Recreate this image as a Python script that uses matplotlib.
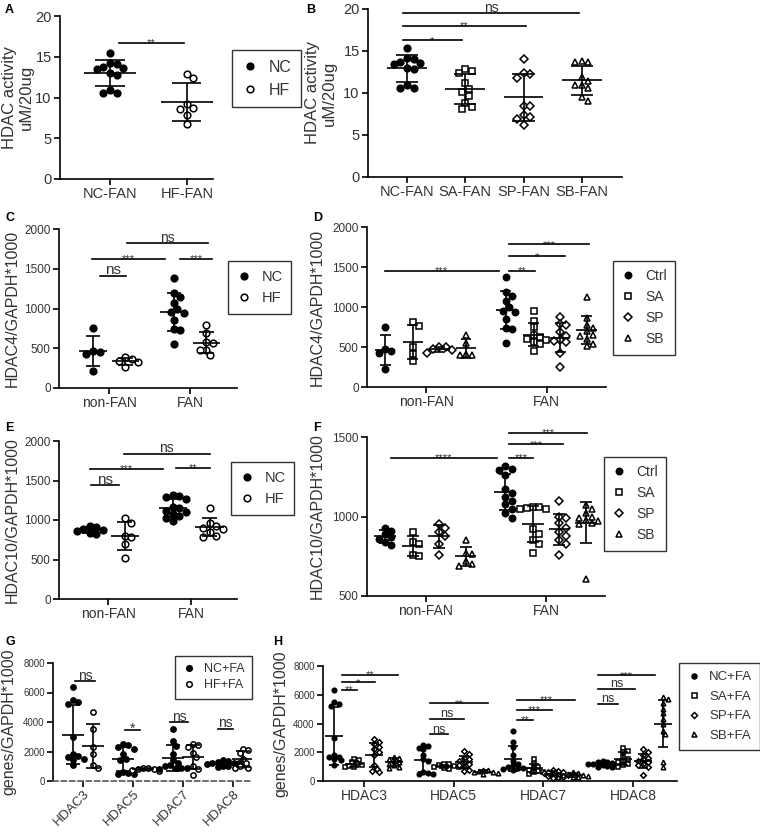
import numpy as np
import matplotlib
matplotlib.use("Agg")
import matplotlib.pyplot as plt
from matplotlib.lines import Line2D

plt.rcParams["font.family"] = ["Liberation Sans", "DejaVu Sans"]

# ---- data ----
# A / B : HDAC activity (uM/20ug)
ACT_NC_FAN = [15.4, 14.2, 14.1, 13.7, 13.6, 13.5, 13.0, 12.8, 10.9, 10.6, 10.6]
ACT_HF_FAN = [12.9, 12.4, 9.2, 8.7, 8.6, 7.8, 6.7]
ACT_SA_FAN = [12.8, 12.6, 12.4, 11.2, 10.5, 10.1, 9.6, 8.8, 8.3, 8.1]
ACT_SP_FAN = [14.0, 12.4, 12.3, 11.8, 8.4, 8.4, 7.4, 7.1, 6.9, 6.2]
ACT_SB_FAN = [13.8, 13.7, 13.7, 11.9, 11.4, 10.9, 10.9, 10.6, 9.5, 9.0]
ACT_LABELS_A = ["NC-FAN", "HF-FAN"]
ACT_LABELS_B = ["NC-FAN", "SA-FAN", "SP-FAN", "SB-FAN"]

# C / D : HDAC4/GAPDH*1000
H4_NC_NONFAN = [750, 470, 450, 430, 220]
H4_HF_NONFAN = [390, 360, 335, 330, 260]
H4_NC_FAN = [1380, 1190, 1140, 1070, 1000, 950, 940, 850, 740, 730, 550]
H4_HF_FAN = [790, 690, 575, 560, 480, 480, 410]
H4_SA_NONFAN = [816, 762, 502, 418, 326]
H4_SP_NONFAN = [500, 495, 470, 460, 430]
H4_SB_NONFAN = [650, 550, 410, 400, 400]
H4_SA_FAN = [950, 830, 750, 650, 630, 600, 590, 560, 540, 450]
H4_SP_FAN = [870, 790, 770, 690, 640, 590, 580, 560, 430, 250]
H4_SB_FAN = [1120, 860, 780, 740, 700, 650, 640, 600, 540, 510]

# E / F : HDAC10/GAPDH*1000
H10_NC_NONFAN = [930, 910, 890, 870, 860, 840, 820]
H10_HF_NONFAN = [1020, 960, 800, 780, 700, 520]
H10_NC_FAN = [1320, 1300, 1290, 1260, 1170, 1150, 1120, 1100, 1080, 1050, 1020, 990]
H10_HF_FAN = [1150, 960, 920, 900, 880, 850, 800, 790]
H10_SA_NONFAN = [900, 840, 830, 760, 750]
H10_SP_NONFAN = [950, 930, 900, 880, 830, 760]
H10_SB_NONFAN = [850, 770, 765, 720, 700, 690]
H10_SA_FAN = [1060, 1060, 1055, 1050, 1050, 920, 890, 850, 830, 770]
H10_SP_FAN = [1100, 1000, 990, 960, 930, 900, 880, 850, 830, 760]
H10_SB_FAN = [1070, 1050, 1020, 1000, 990, 980, 970, 960, 950, 610]

DIET_CATS = ["non-FAN", "FAN"]

# G / H : genes/GAPDH*1000
GENES = ["HDAC3", "HDAC5", "HDAC7", "HDAC8"]
G_NC_FA = [[6350, 5500, 5350, 5250, 3000, 1800, 1700, 1650, 1500, 1450, 1100],
           [2500, 2450, 2300, 2200, 1800, 1500, 1400, 600, 550, 500, 500],
           [3500, 2700, 2400, 1800, 1400, 1200, 1100, 1000, 900, 900, 850, 800],
           [1400, 1350, 1300, 1250, 1200, 1200, 1150, 1100, 1050, 1000, 950]]
G_HF_FA = [[4700, 3550, 2300, 1800, 1100, 900],
           [900, 850, 800, 780, 750, 700],
           [2500, 2450, 2300, 1900, 1600, 1000, 800, 400],
           [2200, 2100, 1900, 1500, 1200, 1000, 900, 900]]
G_SA_FA = [[1550, 1450, 1300, 1200, 1100, 1050, 1000, 950],
           [1200, 1150, 1100, 1050, 1000, 950, 900, 850],
           [1500, 1200, 1000, 900, 800, 700, 650, 600, 500],
           [2300, 2100, 2000, 1700, 1500, 1400, 1300, 1200, 1100, 1000]]
G_SP_FA = [[2900, 2700, 2550, 2350, 2200, 2050, 1800, 1100, 850, 700, 600],
           [2100, 1900, 1600, 1500, 1400, 1300, 1200, 1100, 1000, 800, 700],
           [800, 700, 650, 600, 550, 500, 450, 400, 350, 300, 200],
           [2200, 2000, 1800, 1600, 1500, 1400, 1300, 1200, 1100, 1000, 400]]
G_SB_FA = [[1700, 1600, 1500, 1400, 1300, 1200, 1100, 1000, 900],
           [800, 750, 700, 650, 600, 550, 500],
           [600, 550, 500, 450, 400, 350, 300, 300, 250],
           [5850, 5700, 5400, 5000, 4700, 4300, 4000, 3500, 3250, 1300, 1000]]

TEXT = "#333333"
W, H = 760, 832
fig = plt.figure(figsize=(W / 100, H / 100), dpi=100)


def px_axes(l, t, r, b):
    return fig.add_axes([l / W, 1 - b / H, (r - l) / W, (b - t) / H])


def style(ax, xlim, ylim, yticks, xlabels, ysize, xsize, rot=0):
    ax.set_xlim(*xlim)
    ax.set_ylim(*ylim)
    ax.set_yticks(yticks)
    ax.set_xticks(range(len(xlabels)))
    if rot:
        ax.set_xticklabels(xlabels, fontsize=xsize, color=TEXT, rotation=rot,
                           ha="right", rotation_mode="anchor")
    else:
        ax.set_xticklabels(xlabels, fontsize=xsize, color=TEXT)
    ax.tick_params(axis="y", labelsize=ysize, labelcolor=TEXT)
    for s in ["top", "right"]:
        ax.spines[s].set_visible(False)
    for s in ["left", "bottom"]:
        ax.spines[s].set_linewidth(1.2)
    ax.tick_params(direction="out", length=4, width=1.2, pad=2)
    ax.patch.set_alpha(0)


def swarm_x(ax, xc, vals, d, overlap=0.78):
    # simple beeswarm in pixel space, points may overlap a little like GraphPad
    vals = np.asarray(vals, float)
    ypx = ax.transData.transform(np.column_stack([np.full(len(vals), xc), vals]))[:, 1]
    per = ax.transData.transform((1, 0))[0] - ax.transData.transform((0, 0))[0]
    cand = [0.0]
    for k in range(1, 40):
        cand += [k * d * 0.4, -k * d * 0.4]
    offs = np.zeros(len(vals))
    placed = []
    for i in np.argsort(-vals):
        for c in cand:
            if all((c - px) ** 2 + (ypx[i] - py) ** 2 >= (overlap * d) ** 2 for px, py in placed):
                break
        offs[i] = c
        placed.append((c, ypx[i]))
    return xc + offs / per


def group(ax, xc, vals, marker, filled, ms, mean_hw, cap_hw, lw=1.2, overlap=0.78):
    vals = np.asarray(vals, float)
    msz = ms * 0.85 if marker == "D" else ms
    xs = swarm_x(ax, xc, vals, ms * 1.39 + 1.5, overlap)
    ax.plot(xs, vals, ls="none", marker=marker, ms=msz, mew=1.1,
            mfc="black" if filled else "white", mec="black", zorder=3, clip_on=False)
    m, s = vals.mean(), vals.std(ddof=1)
    ax.hlines(m, xc - mean_hw, xc + mean_hw, color="black", lw=lw, zorder=4)
    ax.hlines([m - s, m + s], xc - cap_hw, xc + cap_hw, color="black", lw=lw, zorder=4)
    ax.vlines(xc, m - s, m + s, color="black", lw=lw, zorder=4)


def sig(ax, x1, x2, y, label, fs=None):
    ax.plot([x1, x2], [y, y], color="black", lw=1.2, clip_on=False, zorder=5)
    if label == "ns":
        fs, dy = fs or 10, -1
    else:
        fs, dy = fs or 8, -4
    ax.annotate(label, xy=((x1 + x2) / 2, y), xytext=(0, dy), textcoords="offset points",
                ha="center", va="bottom", fontsize=fs, color=TEXT, annotation_clip=False)


def legend(labels, markers, fills, left, top, fs, ms, spacing=0.5):
    hs = [Line2D([], [], ls="none", marker=mk, ms=ms * (0.85 if mk == "D" else 1), mew=1.1,
                 mfc="black" if f else "white", mec="black") for mk, f in zip(markers, fills)]
    leg = fig.legend(hs, labels, loc="upper left", bbox_to_anchor=(left / W, 1 - top / H),
                     frameon=True, fancybox=False, edgecolor="black", fontsize=fs,
                     handletextpad=0.7, labelspacing=spacing, borderpad=0.6,
                     handlelength=1.0, borderaxespad=0)
    leg.get_frame().set_linewidth(1.0)
    for t in leg.get_texts():
        t.set_color(TEXT)


def letter(x, y, s):
    fig.text(x / W, 1 - y / H, s, fontsize=9, fontweight="bold", va="top", ha="left")


def ylabel(ax, s, xfrac, fs=11.5):
    ax.set_ylabel(s, fontsize=fs, color=TEXT)
    ax.yaxis.set_label_coords(xfrac, 0.5)


MK4 = ["o", "s", "D", "^"]
FILL4 = [True, False, False, False]
OFF4 = [-0.34, -0.11, 0.11, 0.33]

# ---- A ----
axA = px_axes(60, 16, 213, 179)
style(axA, (-0.65, 1.34), (0, 20), [0, 5, 10, 15, 20], ACT_LABELS_A, 10.5, 10.5)
group(axA, 0, ACT_NC_FAN, "o", True, 4.8, 0.34, 0.19)
group(axA, 1, ACT_HF_FAN, "o", False, 4.8, 0.34, 0.19)
sig(axA, 0.12, 0.96, 16.7, "**")
ylabel(axA, "HDAC activity\nuM/20ug", (34 - 60) / 153, 12)
legend(["NC", "HF"], ["o", "o"], [True, False], 232, 50, 11.5, 4.8)
letter(5, 4, "A")

# ---- B ----
axB = px_axes(368, 9, 622, 177)
style(axB, (-0.67, 3.69), (0, 20), [0, 5, 10, 15, 20], ACT_LABELS_B, 10.5, 10.5)
for i, vals in enumerate([ACT_NC_FAN, ACT_SA_FAN, ACT_SP_FAN, ACT_SB_FAN]):
    group(axB, i, vals, MK4[i], FILL4[i], 4.8, 0.34, 0.19)
sig(axB, -0.07, 0.94, 16.3, "*")
sig(axB, -0.07, 2.04, 18.0, "**")
sig(axB, -0.07, 2.95, 19.5, "ns")
ylabel(axB, "HDAC activity\nuM/20ug", (337 - 368) / 254, 12)
letter(306, 4, "B")

# ---- C ----
axC = px_axes(59, 229, 237, 388)
style(axC, (-0.62, 1.58), (0, 2000), [0, 500, 1000, 1500, 2000], DIET_CATS, 8.5, 10)
group(axC, -0.2, H4_NC_NONFAN, "o", True, 4.8, 0.17, 0.09)
group(axC, 0.2, H4_HF_NONFAN, "o", False, 4.8, 0.17, 0.09)
group(axC, 0.8, H4_NC_FAN, "o", True, 4.8, 0.17, 0.09)
group(axC, 1.2, H4_HF_FAN, "o", False, 4.8, 0.17, 0.09)
sig(axC, -0.11, 0.21, 1410, "ns", 11)
sig(axC, -0.21, 0.69, 1623, "***")
sig(axC, 0.22, 1.22, 1820, "ns")
sig(axC, 0.88, 1.27, 1623, "***")
ylabel(axC, "HDAC4/GAPDH*1000", (20 - 59) / 178)
legend(["NC", "HF"], ["o", "o"], [True, False], 228, 261, 10.5, 4.8)
letter(5, 212, "C")

# ---- D ----
axD = px_axes(367, 227, 606, 387)
style(axD, (-0.49, 1.49), (0, 2000), [0, 500, 1000, 1500, 2000], DIET_CATS, 8.5, 10)
for i, vals in enumerate([H4_NC_NONFAN, H4_SA_NONFAN, H4_SP_NONFAN, H4_SB_NONFAN]):
    group(axD, OFF4[i], vals, MK4[i], FILL4[i], 4.6, 0.085, 0.045)
for i, vals in enumerate([H4_NC_FAN, H4_SA_FAN, H4_SP_FAN, H4_SB_FAN]):
    group(axD, 1 + OFF4[i], vals, MK4[i], FILL4[i], 4.6, 0.085, 0.045)
sig(axD, -0.34, 0.60, 1454, "***")
sig(axD, 0.69, 0.90, 1454, "**")
sig(axD, 0.69, 1.15, 1637, "*")
sig(axD, 0.69, 1.35, 1783, "***")
ylabel(axD, "HDAC4/GAPDH*1000", (325 - 367) / 239)
legend(["Ctrl", "SA", "SP", "SB"], MK4, FILL4, 613, 261, 10, 4.6)
letter(313, 212, "D")

# ---- E ----
axE = px_axes(59, 441, 237, 599)
style(axE, (-0.59, 1.55), (0, 2000), [0, 500, 1000, 1500, 2000], DIET_CATS, 8.5, 10)
group(axE, -0.22, H10_NC_NONFAN, "o", True, 4.8, 0.17, 0.09)
group(axE, 0.2, H10_HF_NONFAN, "o", False, 4.8, 0.17, 0.09)
group(axE, 0.78, H10_NC_FAN, "o", True, 4.8, 0.17, 0.09)
group(axE, 1.22, H10_HF_FAN, "o", False, 4.8, 0.17, 0.09)
sig(axE, -0.2, 0.13, 1440, "ns", 11)
sig(axE, -0.22, 0.66, 1650, "***")
sig(axE, 0.19, 1.22, 1840, "ns")
sig(axE, 0.82, 1.23, 1660, "**")
ylabel(axE, "HDAC10/GAPDH*1000", (20 - 59) / 178)
legend(["NC", "HF"], ["o", "o"], [True, False], 231, 462, 10.5, 4.8)
letter(5, 422, "E")

# ---- F ----
axF = px_axes(367, 437, 605, 596)
style(axF, (-0.49, 1.49), (500, 1500), [500, 1000, 1500], DIET_CATS, 8.5, 10)
for i, vals in enumerate([H10_NC_NONFAN, H10_SA_NONFAN, H10_SP_NONFAN, H10_SB_NONFAN]):
    group(axF, OFF4[i], vals, MK4[i], FILL4[i], 4.6, 0.09, 0.05)
for i, vals in enumerate([H10_NC_FAN, H10_SA_FAN, H10_SP_FAN, H10_SB_FAN]):
    group(axF, 1 + OFF4[i], vals, MK4[i], FILL4[i], 4.6, 0.09, 0.05)
sig(axF, -0.29, 0.59, 1370, "****")
sig(axF, 0.69, 0.89, 1370, "***")
sig(axF, 0.69, 1.14, 1454, "***")
sig(axF, 0.69, 1.34, 1527, "***")
ylabel(axF, "HDAC10/GAPDH*1000", (325 - 367) / 238)
legend(["Ctrl", "SA", "SP", "SB"], MK4, FILL4, 604, 457, 10, 4.6)
letter(313, 422, "F")

# ---- G ----
axG = px_axes(53, 663, 252, 781)
style(axG, (-0.6, 3.38), (0, 8000), [0, 2000, 4000, 6000, 8000], GENES, 7, 9.5, rot=45)
axG.tick_params(axis="x", pad=1)
axG.spines["bottom"].set_linestyle((0, (3, 2)))
axG.spines["bottom"].set_color("#555555")
for i in range(4):
    group(axG, i - 0.2, G_NC_FA[i], "o", True, 3.8, 0.22, 0.14, overlap=0.7)
    group(axG, i + 0.2, G_HF_FA[i], "o", False, 3.8, 0.22, 0.14, overlap=0.7)
sig(axG, -0.15, 0.25, 6750, "ns")
sig(axG, 1 - 0.15, 1.15, 3470, "*", 10)
sig(axG, 2 - 0.25, 2.1, 3970, "ns")
sig(axG, 3 - 0.3, 3.0, 3540, "ns")
ylabel(axG, "genes/GAPDH*1000", (16 - 53) / 199)
legend(["NC+FA", "HF+FA"], ["o", "o"], [True, False], 175, 656, 9, 4.0, 0.3)
letter(5, 636, "G")

# ---- H ----
axH = px_axes(323, 666, 677, 781)
style(axH, (-0.46, 3.49), (0, 8000), [0, 2000, 4000, 6000, 8000], GENES, 7, 10)
for i in range(4):
    for j, vals in enumerate([G_NC_FA[i], G_SA_FA[i], G_SP_FA[i], G_SB_FA[i]]):
        group(axH, i + OFF4[j], vals, MK4[j], FILL4[j], 3.3, 0.1, 0.055, overlap=0.65)
H_SIGS = [(0, -0.25, [(-0.08, 6350, "**"), (0.12, 6870, "*"), (0.38, 7400, "**")]),
          (1, -0.27, [(-0.07, 3260, "ns"), (0.11, 4330, "ns"), (0.38, 5420, "**")]),
          (2, -0.29, [(-0.12, 4260, "**"), (0.09, 4960, "***"), (0.35, 5660, "***")]),
          (3, -0.39, [(-0.17, 5350, "ns"), (0.02, 6420, "ns"), (0.25, 7360, "***")])]
for gi, x0, bars in H_SIGS:
    for x1, y, lab in bars:
        sig(axH, gi + x0, gi + x1, y, lab, 9 if lab == "ns" else None)
ylabel(axH, "genes/GAPDH*1000", (288 - 323) / 354)
legend(["NC+FA", "SA+FA", "SP+FA", "SB+FA"], MK4, FILL4, 679, 663, 9.5, 3.6, 0.55)
letter(273, 636, "H")

fig.savefig("out.png", dpi=100)
